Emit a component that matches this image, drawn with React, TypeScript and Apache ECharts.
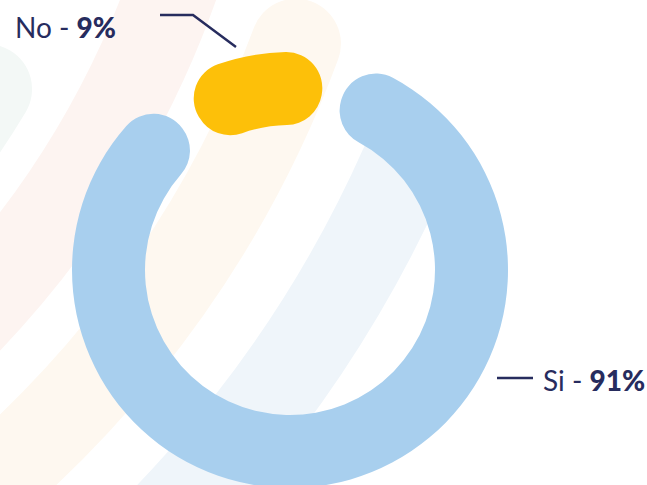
import React, { useEffect, useRef } from "react";
import * as echarts from "echarts";

const categories = ["No", "Si"];
const values = [9, 91];
const sliceColors = ["#fdc009", "#a8cfee"];

const NAVY = "#272c5e";

export default function App() {
  const ref = useRef<HTMLDivElement>(null);
  useEffect(() => {
    if (!ref.current) return;
    const chart = echarts.init(ref.current, null, { renderer: "svg" });
    const C = { x: -712, y: -330 };
    const band = (r: number, a0: number, a1: number, color: string) => ({
      type: "arc",
      silent: true,
      z: -10,
      shape: { cx: C.x, cy: C.y, r, startAngle: a0, endAngle: a1, clockwise: true },
      style: { stroke: color, lineWidth: 90, lineCap: "round", fill: "none" },
    });
    const labelPos = [
      { x: 116, y: 27, align: "right", pts: [[236, 47], [193, 15], [160, 15]] },
      { x: 543, y: 380, align: "left", pts: [[497, 378], [515, 378], [533, 378]] },
    ];
    chart.setOption({
      animation: false,
      backgroundColor: "#ffffff",
      graphic: [
        band(815, 0.54, 1.2, "#f3f8f6"),
        band(940, -0.3, 1.7, "#fdf4f1"),
        band(1075, 0.355, 1.7, "#fef8f0"),
        band(1222, 0.417, 1.7, "#eff5fa"),
      ],
      series: [
        {
          type: "pie",
          center: [290, 270],
          radius: [145, 218],
          startAngle: 124,
          minAngle: 41,
          padAngle: 6.5,
          avoidLabelOverlap: false,
          itemStyle: { borderRadius: 36 },
          data: categories.map((name, i) => ({
            name,
            value: values[i],
            itemStyle: { color: sliceColors[i] },
          })),
          label: {
            show: true,
            position: "outside",
            formatter: (p: any) => `{n|${p.name} - }{v|${p.percent}%}`,
            rich: {
              n: { fontFamily: "Lato", fontSize: 28, color: NAVY, fontWeight: "normal" },
              v: { fontFamily: "Lato", fontSize: 28, color: NAVY, fontWeight: 900 },
            },
          },
          labelLine: {
            show: true,
            smooth: false,
            lineStyle: { color: NAVY, width: 2.5 },
          },
          labelLayout: (params: any) => {
            const lp = labelPos[params.dataIndex];
            return {
              x: lp.x,
              y: lp.y,
              align: lp.align,
              verticalAlign: "middle",
              labelLinePoints: lp.pts,
            };
          },
          emphasis: { disabled: true },
        },
      ],
    });
    return () => chart.dispose();
  }, []);
  return (
    <div
      ref={ref}
      style={{ position: "fixed", left: 0, top: 0, width: 647, height: 485 }}
    />
  );
}
